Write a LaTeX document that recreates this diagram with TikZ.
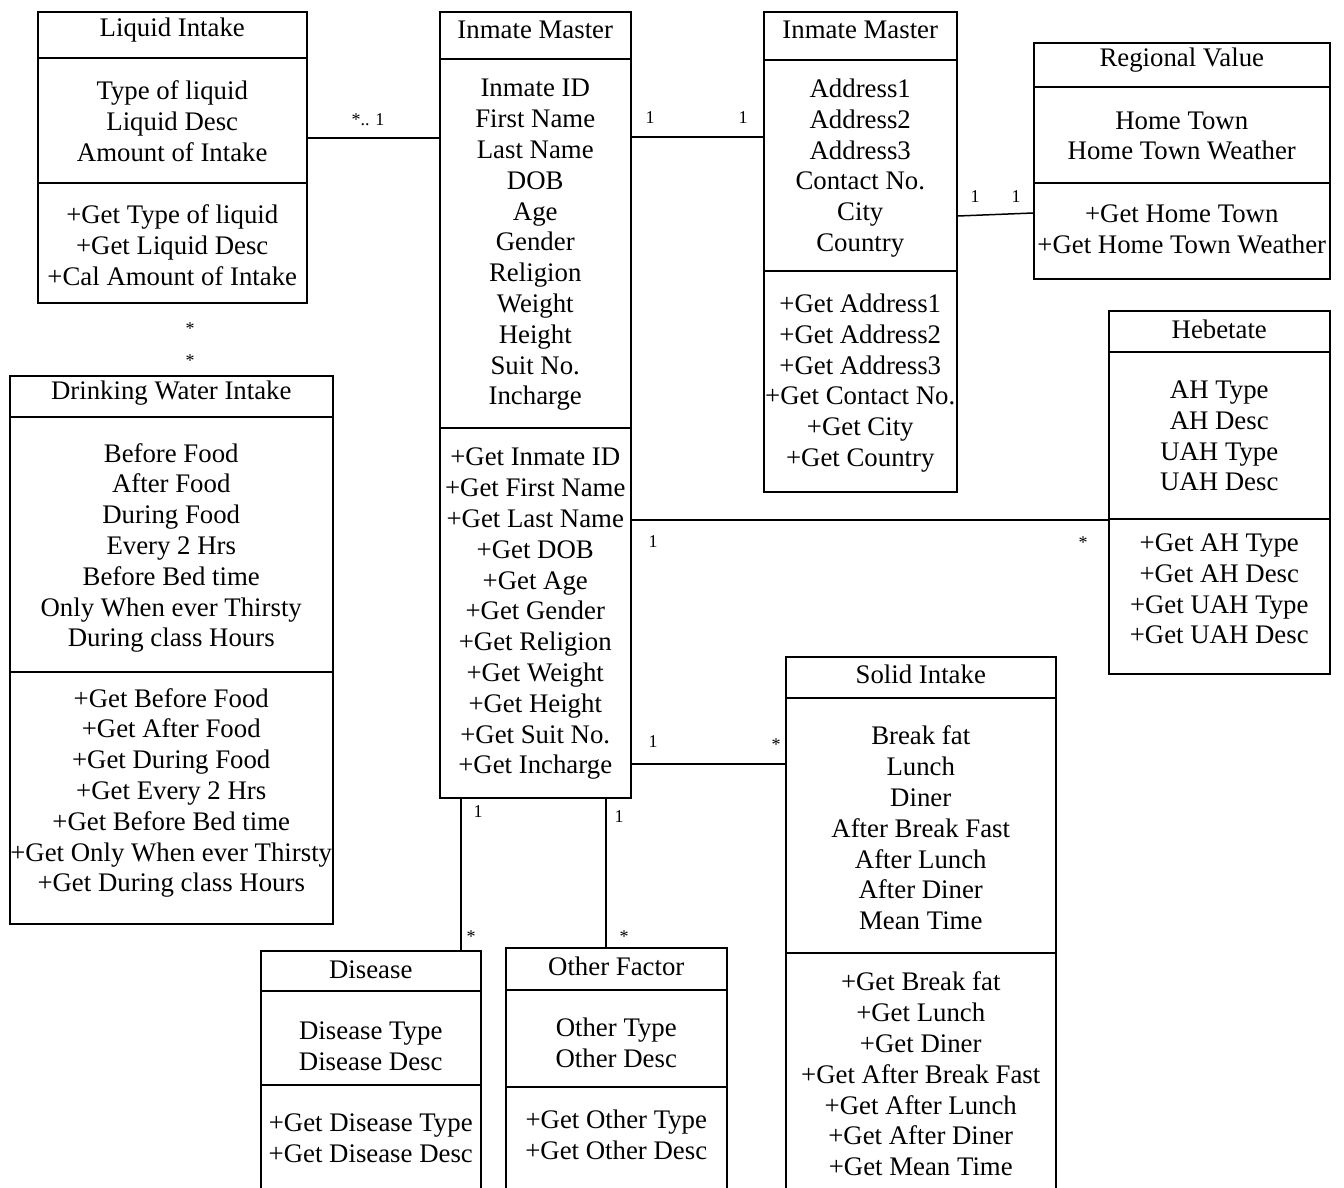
\documentclass[tikz,border=0pt]{standalone}
\usepackage{fontspec}
\setmainfont{Liberation Serif}
\usetikzlibrary{positioning}

\tikzset{
  classbox/.style={draw, line width=1.5pt, inner sep=0pt, anchor=north west},
  sepline/.style={line width=1.5pt},
  assoc/.style={line width=1.5pt},
  ctext/.style={align=center, inner sep=0pt, font=\fontsize{26.8pt}{30.8pt}\selectfont},
  mult/.style={inner sep=0pt, font=\fontsize{18pt}{20pt}\selectfont},
}

\begin{document}
\begin{tikzpicture}[x=1pt,y=-1pt]

    \clip (0,0) rectangle (1344,1187);

    % Liquid Intake
    \node[classbox, minimum width=269pt, minimum height=291pt] (lq) at (37,11) {};
    \draw[sepline] (lq.west |- 0,58) -- (lq.east |- 0,58);
    \draw[sepline] (lq.west |- 0,183) -- (lq.east |- 0,183);
    \node[ctext] (lq-t) at (lq.north |- 0,30) {Liquid Intake};
    \node[ctext] (lq-a) at (lq.north |- 0,121) {Type of liquid\\Liquid Desc\\Amount of Intake};
    \node[ctext] (lq-m) at (lq.north |- 0,245) {+Get Type of liquid\\+Get Liquid Desc\\+Cal Amount of Intake};

    % Inmate Master (main)
    \node[classbox, minimum width=191pt, minimum height=786pt] (iml) at (439,11) {};
    \draw[sepline] (iml.west |- 0,59) -- (iml.east |- 0,59);
    \draw[sepline] (iml.west |- 0,428) -- (iml.east |- 0,428);
    \node[ctext] (iml-t) at (iml.north |- 0,30) {Inmate Master};
    \node[ctext] (iml-a) at (iml.north |- 0,245) {Inmate ID\\First Name\\Last Name\\DOB\\Age\\Gender\\Religion\\Weight\\Height\\Suit No.\\Incharge};
    \node[ctext] (iml-m) at (iml.north |- 0,614) {+Get Inmate ID\\+Get First Name\\+Get Last Name\\+Get DOB\\+Get Age\\+Get Gender\\+Get Religion\\+Get Weight\\+Get Height\\+Get Suit No.\\+Get Incharge};

    % Inmate Master (address)
    \node[classbox, minimum width=193pt, minimum height=480pt] (imr) at (763,11) {};
    \draw[sepline] (imr.west |- 0,60) -- (imr.east |- 0,60);
    \draw[sepline] (imr.west |- 0,271) -- (imr.east |- 0,271);
    \node[ctext] (imr-t) at (imr.north |- 0,30) {Inmate Master};
    \node[ctext] (imr-a) at (imr.north |- 0,168) {Address1\\Address2\\Address3\\Contact No.\\City\\Country};
    \node[ctext] (imr-m) at (imr.north |- 0,383) {+Get Address1\\+Get Address2\\+Get Address3\\+Get Contact No.\\+Get City\\+Get Country};

    % Regional Value
    \node[classbox, minimum width=296pt, minimum height=236pt] (rv) at (1033,42) {};
    \draw[sepline] (rv.west |- 0,87) -- (rv.east |- 0,87);
    \draw[sepline] (rv.west |- 0,183) -- (rv.east |- 0,183);
    \node[ctext] (rv-t) at (rv.north |- 0,60) {Regional Value};
    \node[ctext] (rv-a) at (rv.north |- 0,136) {Home Town\\Home Town Weather};
    \node[ctext] (rv-m) at (rv.north |- 0,229) {+Get Home Town\\+Get Home Town Weather};

    % Hebetate
    \node[classbox, minimum width=221pt, minimum height=363pt] (hb) at (1108,310) {};
    \draw[sepline] (hb.west |- 0,352) -- (hb.east |- 0,352);
    \draw[sepline] (hb.west |- 0,519) -- (hb.east |- 0,519);
    \node[ctext] (hb-t) at (hb.north |- 0,329) {Hebetate};
    \node[ctext] (hb-a) at (hb.north |- 0,436) {AH Type\\AH Desc\\UAH Type\\UAH Desc};
    \node[ctext] (hb-m) at (hb.north |- 0,589) {+Get AH Type\\+Get AH Desc\\+Get UAH Type\\+Get UAH Desc};

    % Drinking Water Intake
    \node[classbox, minimum width=323pt, minimum height=548pt] (dw) at (9,375) {};
    \draw[sepline] (dw.west |- 0,417) -- (dw.east |- 0,417);
    \draw[sepline] (dw.west |- 0,672) -- (dw.east |- 0,672);
    \node[ctext] (dw-t) at (dw.north |- 0,393) {Drinking Water Intake};
    \node[ctext] (dw-a) at (dw.north |- 0,548) {Before Food\\After Food\\During Food\\Every 2 Hrs\\Before Bed time\\Only When ever Thirsty\\During class Hours};
    \node[ctext] (dw-m) at (dw.north |- 0,793) {+Get Before Food\\+Get After Food\\+Get During Food\\+Get Every 2 Hrs\\+Get Before Bed time\\+Get Only When ever Thirsty\\+Get During class Hours};

    % Solid Intake
    \node[classbox, minimum width=270pt, minimum height=560pt] (si) at (785,656) {};
    \draw[sepline] (si.west |- 0,698) -- (si.east |- 0,698);
    \draw[sepline] (si.west |- 0,953) -- (si.east |- 0,953);
    \node[ctext] (si-t) at (si.north |- 0,674) {Solid Intake};
    \node[ctext] (si-a) at (si.north |- 0,828) {Break fat\\Lunch\\Diner\\After Break Fast\\After Lunch\\After Diner\\Mean Time};
    \node[ctext] (si-m) at (si.north |- 0,1074) {+Get Break fat\\+Get Lunch\\+Get Diner\\+Get After Break Fast\\+Get After Lunch\\+Get After Diner\\+Get Mean Time};

    % Disease
    \node[classbox, minimum width=220pt, minimum height=270pt] (ds) at (260,950) {};
    \draw[sepline] (ds.west |- 0,991) -- (ds.east |- 0,991);
    \draw[sepline] (ds.west |- 0,1085) -- (ds.east |- 0,1085);
    \node[ctext] (ds-t) at (ds.north |- 0,970) {Disease};
    \node[ctext] (ds-a) at (ds.north |- 0,1046) {Disease Type\\Disease Desc};
    \node[ctext] (ds-m) at (ds.north |- 0,1138) {+Get Disease Type\\+Get Disease Desc};

    % Other Factor
    \node[classbox, minimum width=221pt, minimum height=270pt] (of) at (505,947) {};
    \draw[sepline] (of.west |- 0,990) -- (of.east |- 0,990);
    \draw[sepline] (of.west |- 0,1087) -- (of.east |- 0,1087);
    \node[ctext] (of-t) at (of.north |- 0,966) {Other Factor};
    \node[ctext] (of-a) at (of.north |- 0,1043) {Other Type\\Other Desc};
    \node[ctext] (of-m) at (of.north |- 0,1135) {+Get Other Type\\+Get Other Desc};

    % associations
    \draw[assoc] (lq.east |- 0,138) -- (iml.west |- 0,138);
    \draw[assoc] (iml.east |- 0,137) -- (imr.west |- 0,137);
    \draw[assoc] (imr.east |- 0,216) -- (rv.west |- 0,213);
    \draw[assoc] (iml.east |- 0,520) -- (hb.west |- 0,520);
    \draw[assoc] (iml.east |- 0,764) -- (si.west |- 0,764);
    \draw[assoc] (iml.south -| 461,0) -- (ds.north -| 461,0);
    \draw[assoc] (iml.south -| 606,0) -- (of.north -| 606,0);

    % multiplicities
    \node[mult] (m-lq) at (368,120) {*.. 1};
    \node[mult] (m-iml1) at (650,118) {1};
    \node[mult] (m-imr1) at (743,118) {1};
    \node[mult] (m-imr2) at (975,197) {1};
    \node[mult] (m-rv) at (1016,197) {1};
    \node[mult] (m-iml2) at (653,542) {1};
    \node[mult] (m-hb) at (1083,543) {*};
    \node[mult] (m-iml3) at (653,742) {1};
    \node[mult] (m-si) at (776,745) {*};
    \node[mult] (m-iml4) at (478,812) {1};
    \node[mult] (m-ds) at (471,937) {*};
    \node[mult] (m-iml5) at (619,817) {1};
    \node[mult] (m-of) at (624,937) {*};
    \node[mult] (m-lq2) at (190,329) {*};
    \node[mult] (m-dw) at (190,361) {*};

\end{tikzpicture}
\end{document}
